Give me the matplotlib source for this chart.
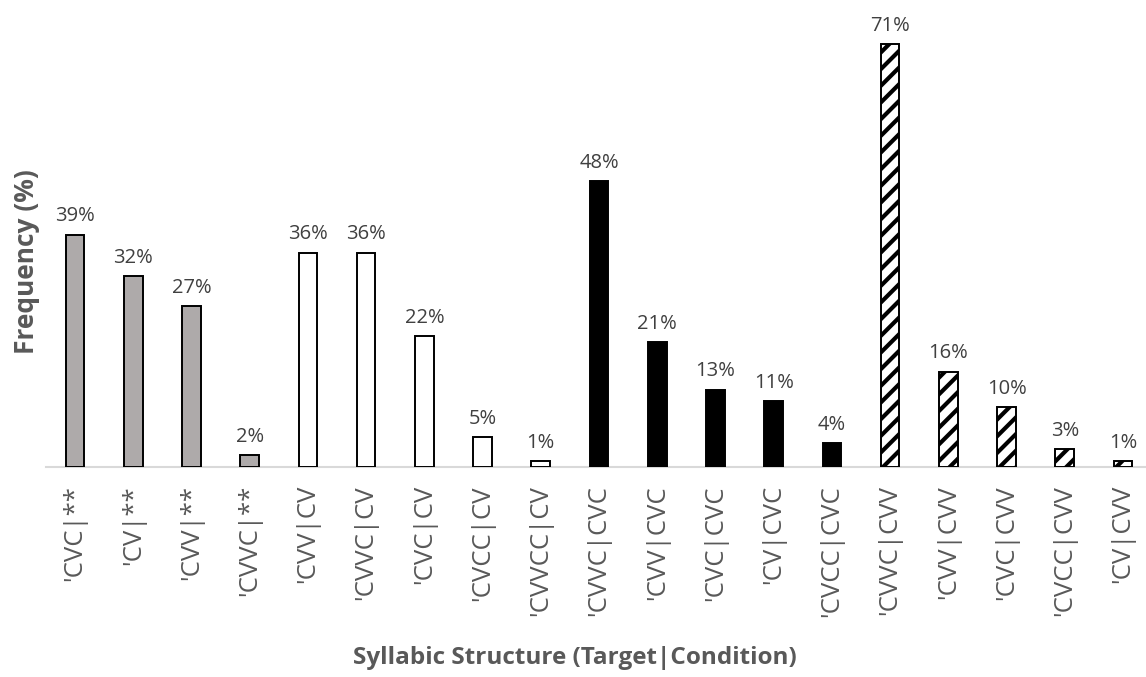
import numpy as np
import matplotlib.pyplot as plt

labels = ["'CVC|**", "'CV|**", "'CVV|**", "'CVVC|**",
          "'CVV|CV", "'CVVC|CV", "'CVC|CV", "'CVCC|CV", "'CVVCC|CV",
          "'CVVC|CVC", "'CVV|CVC", "'CVC|CVC", "'CV|CVC", "'CVCC|CVC",
          "'CVVC|CVV", "'CVV|CVV", "'CVC|CVV", "'CVCC|CVV", "'CV|CVV"]
values = [39, 32, 27, 2,
          36, 36, 22, 5, 1,
          48, 21, 13, 11, 4,
          71, 16, 10, 3, 1]
# condition group of each bar: ** / CV / CVC / CVV
groups = [0] * 4 + [1] * 5 + [2] * 5 + [3] * 5

group_face = ['#aeaaaa', 'white', 'black', 'white']
group_hatch = [None, None, None, '//']

plt.rcParams['font.family'] = ['Open Sans', 'DejaVu Sans']
plt.rcParams['hatch.linewidth'] = 3.0

W, H = 1146, 677
fig = plt.figure(figsize=(W / 100, H / 100), dpi=100)
ax = fig.add_axes([46 / W, (H - 467) / H, 1100 / W, 457 / H])

x = np.arange(len(values))
for i in x:
    g = groups[i]
    ax.bar(i, values[i], width=0.32, color=group_face[g], edgecolor='black',
           linewidth=1.4, hatch=group_hatch[g], zorder=3)
    ax.annotate(f'{values[i]}%', (i, values[i]), xytext=(0, 6),
                textcoords='offset points', ha='center', va='bottom',
                fontsize=14.5, color='#404040')

ax.set_xlim(-0.498, 18.395)
ax.set_ylim(0, 76.7)
ax.set_xticks(x)
ax.set_xticklabels(labels, rotation=90, fontsize=18.5, color='#595959')
ax.tick_params(axis='x', length=0, pad=13)
ax.set_yticks([])
for s in ['top', 'right', 'left']:
    ax.spines[s].set_visible(False)
ax.spines['bottom'].set_color('#d9d9d9')
ax.spines['bottom'].set_linewidth(1.5)

fig.text(575 / W, 1 - 658 / H, 'Syllabic Structure (Target|Condition)',
         ha='center', va='center', fontsize=17.5, fontweight='bold', color='#595959')
fig.text(27 / W, 1 - 262 / H, 'Frequency (%)', rotation=90,
         ha='center', va='center', fontsize=19, fontweight='bold', color='#595959')

fig.savefig('out.png', dpi=100)
